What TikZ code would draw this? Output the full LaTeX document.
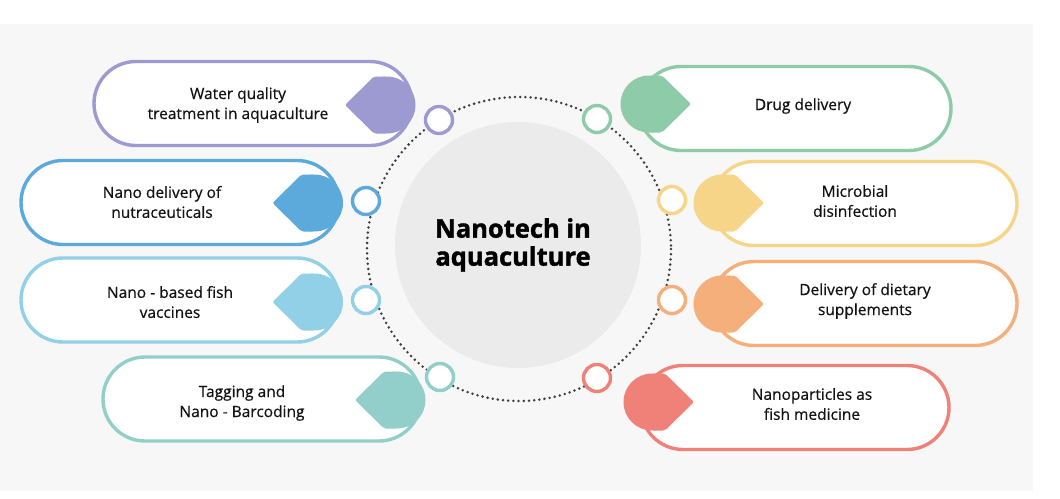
\documentclass[tikz,border=0pt]{standalone}
\usepackage{fontspec}
\setmainfont{Open Sans}
\newfontfamily\lblfont{Open Sans}[FakeBold=0.5]
\newfontfamily\ttlfont{Open Sans}[BoldFeatures={FakeBold=1.5}]
\definecolor{bgc}{HTML}{F7F7F7}
\definecolor{hubc}{HTML}{EBEBEB}
\definecolor{dotc}{HTML}{3E3E3E}
\definecolor{txtc}{HTML}{121212}
\definecolor{cpur}{HTML}{9D99D1}
\definecolor{cblu}{HTML}{5CAADB}
\definecolor{clbl}{HTML}{92D0E7}
\definecolor{ctea}{HTML}{92CFCB}
\definecolor{cgrn}{HTML}{8ECBA8}
\definecolor{cyel}{HTML}{F6D588}
\definecolor{cora}{HTML}{F4AF7A}
\definecolor{cred}{HTML}{EF8179}
\tikzset{
  pill/.style={rectangle, fill=white, line width=3.4pt, minimum height=84pt,
    rounded corners=42pt, inner sep=0pt},
  ring/.style={circle, fill=white, line width=3.4pt, minimum size=27pt, inner sep=0pt},
  lbl/.style={align=center, text=txtc, font=\lblfont\fontsize{15.5}{20}\selectfont, inner sep=0pt},
  ttl/.style={align=center, text=black, font=\ttlfont\fontsize{25.5}{28}\selectfont\bfseries, inner sep=0pt},
  dotring/.style={draw=dotc, line width=2.8pt, dash pattern=on 0pt off 5.2pt, line cap=round},
  blobl/.pic={\fill (0,0) circle (28.5); \fill[rounded corners=2pt] (-42,0) -- (-13,-28.5) -- (0,-28.5) -- (0,28.5) -- (-13,28.5) -- cycle;},
  blobr/.pic={\fill (0,0) circle (28.5); \fill[rounded corners=2pt] (42,0) -- (13,-28.5) -- (0,-28.5) -- (0,28.5) -- (13,28.5) -- cycle;}
}
\begin{document}
\begin{tikzpicture}[x=1pt,y=-1pt]
\useasboundingbox (0,0) rectangle (1060,498);
\fill[bgc] (0,24) rectangle (1033,491);
\node[circle, fill=hubc, minimum size=246pt, inner sep=0pt] (hub) at (518,245) {};
\draw[dotring] (519,249) circle (152);
% rings
\node[ring, draw=cpur] (r1) at (439,120) {};
\node[ring, draw=cblu] (r2) at (366,201) {};
\node[ring, draw=clbl] (r3) at (366,300) {};
\node[ring, draw=ctea] (r4) at (440,377) {};
\node[ring, draw=cgrn] (r5) at (597,119) {};
\node[ring, draw=cyel] (r6) at (672,200) {};
\node[ring, draw=cora] (r7) at (672,300) {};
\node[ring, draw=cred] (r8) at (597,378) {};
% pills
\node[pill, draw=cpur, minimum width=318pt] (p1) at (253,103.5) {};
\node[pill, draw=cblu, minimum width=318pt] (p2) at (180,202.5) {};
\node[pill, draw=clbl, minimum width=318pt] (p3) at (180,300) {};
\node[pill, draw=ctea, minimum width=318pt] (p4) at (262,399) {};
\node[pill, draw=cgrn, minimum width=312pt] (p5) at (795,108.5) {};
\node[pill, draw=cyel, minimum width=305pt] (p6) at (864.5,203.5) {};
\node[pill, draw=cora, minimum width=305pt] (p7) at (864.5,303.5) {};
\node[pill, draw=cred, minimum width=308pt] (p8) at (795,407.5) {};
% blobs
\pic[color=cpur] at (387,105) {blobl};
\pic[color=cblu] at (314.5,203) {blobl};
\pic[color=clbl] at (314.5,302) {blobl};
\pic[color=ctea] at (397,400) {blobl};
\pic[color=cgrn] at (649,104) {blobr};
\pic[color=cyel] at (722,203) {blobr};
\pic[color=cora] at (722,304) {blobr};
\pic[color=cred] at (652,402) {blobr};
% texts
\node[ttl] (title) at (513,245) {Nanotech in\\aquaculture};
\node[lbl] (t1) at (238,105) {Water quality\\treatment in aquaculture};
\node[lbl] (t2) at (162,202) {Nano delivery of\\nutraceuticals};
\node[lbl] (t3) at (170,302) {Nano - based fish\\vaccines};
\node[lbl] (t4) at (242,403) {Tagging and\\Nano - Barcoding};
\node[lbl] (t5) at (803,106) {Drug delivery};
\node[lbl] (t6) at (855,201) {Microbial\\disinfection};
\node[lbl] (t7) at (865,301) {Delivery of dietary\\supplements};
\node[lbl] (t8) at (812,404) {Nanoparticles as\\fish medicine};
\end{tikzpicture}
\end{document}
